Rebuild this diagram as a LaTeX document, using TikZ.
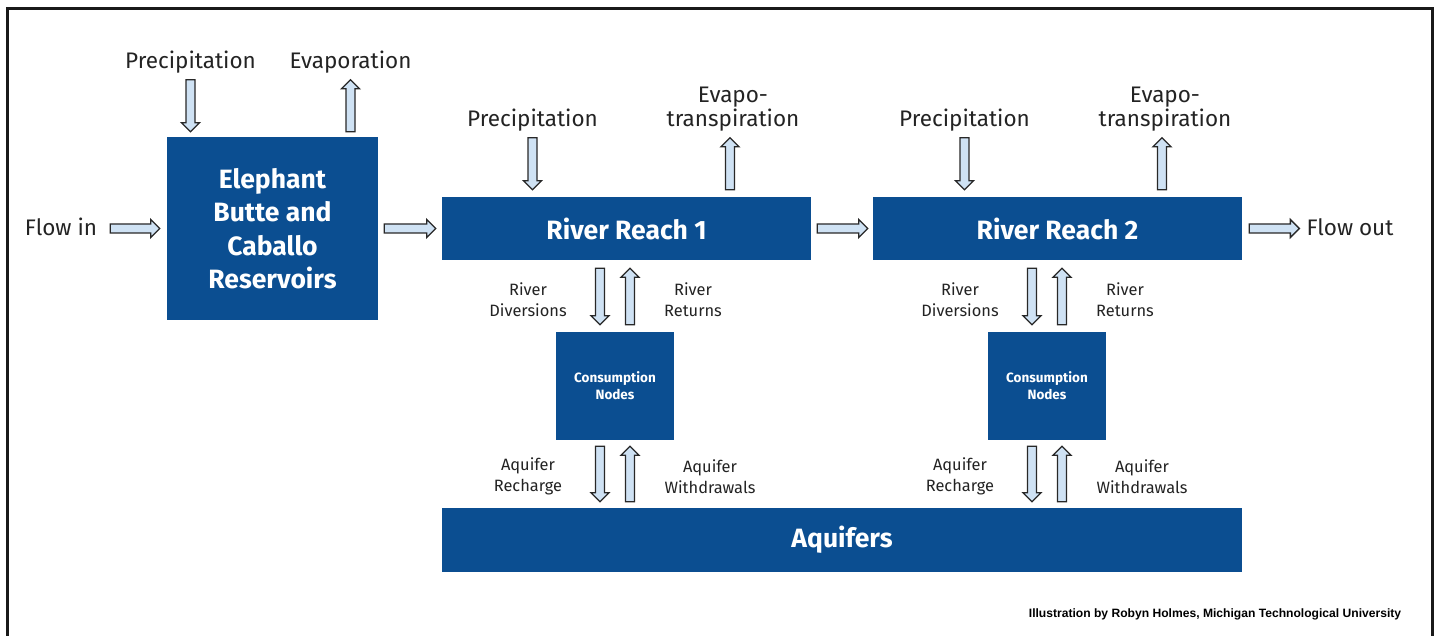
\documentclass[tikz,border=0pt]{standalone}
\usepackage{fontspec}
\setmainfont{Fira Sans}
\newfontfamily\creditfont{Liberation Sans}
\usetikzlibrary{calc}

\definecolor{boxblue}{RGB}{11,78,145}
\definecolor{arrowfill}{RGB}{207,226,244}
\definecolor{arrowline}{RGB}{40,40,40}
\definecolor{labelgray}{RGB}{35,35,35}

% block arrow from #1 (tail) to #2 (tip)
\newcommand{\fatarrow}[2]{%
  \coordinate (fa-t) at (#1);
  \coordinate (fa-b) at (#2);
  \coordinate (fa-h) at ($(fa-b)!9pt!(fa-t)$);
  \draw[fatarrow] ($(fa-t)!4.5pt!90:(fa-b)$) -- ($(fa-h)!4.5pt!90:(fa-b)$) -- ($(fa-h)!9pt!90:(fa-b)$)
    -- (fa-b) -- ($(fa-h)!9pt!-90:(fa-b)$) -- ($(fa-h)!4.5pt!-90:(fa-b)$) -- ($(fa-t)!4.5pt!-90:(fa-b)$) -- cycle;}

\begin{document}
\begin{tikzpicture}[x=1pt, y=1pt,
    box/.style={fill=boxblue, text=white, inner sep=0pt, align=center, font=\bfseries\fontsize{26.5}{33.5}\selectfont},
    biglbl/.style={text=labelgray, inner sep=0pt, align=center, font=\fontsize{22.5}{22}\selectfont},
    smalllbl/.style={text=labelgray, inner sep=0pt, align=center, font=\fontsize{16.4}{21}\selectfont},
    fatarrow/.style={draw=arrowline, fill=arrowfill, line width=1.3pt, line join=miter}]

    \useasboundingbox (0,0) rectangle (1438,636);

    % frame, open at the bottom
    \draw[line width=3pt, black!90] (7,0) -- (7,627) -- (1432,627) -- (1432,0);

    % Boxes
    \node[box, minimum width=211pt, minimum height=183pt] (res) at (272.5,407.5) {Elephant\\Butte and\\Caballo\\Reservoirs};
    \node[box, minimum width=369pt, minimum height=63pt] (rr1) at (626.5,407.5) {River Reach 1};
    \node[box, minimum width=369pt, minimum height=63pt] (rr2) at (1057.5,407.5) {River Reach 2};
    \node[box, minimum width=118pt, minimum height=108pt, font=\bfseries\fontsize{13.5}{17}\selectfont] (cn1) at (615,250) {Consumption\\Nodes};
    \node[box, minimum width=118pt, minimum height=108pt, font=\bfseries\fontsize{13.5}{17}\selectfont] (cn2) at (1047,250) {Consumption\\Nodes};
    \node[box, minimum width=800pt, minimum height=64pt] (aq) at (842,96) {Aquifers};

    % Labels
    \node[biglbl] (flowin) at (61,409) {Flow in};
    \node[biglbl] (flowout) at (1350,409) {Flow out};
    \node[biglbl] (precA) at (190.5,574) {Precipitation};
    \node[biglbl] (evapA) at (350.5,574) {Evaporation};
    \node[biglbl] (precB) at (532.5,516) {Precipitation};
    \node[biglbl] (evtB) at (733,527) {Evapo-\\transpiration};
    \node[biglbl] (precC) at (964.5,516) {Precipitation};
    \node[biglbl] (evtC) at (1165,527) {Evapo-\\transpiration};

    \node[smalllbl] (divB) at (528,336.5) {River\\Diversions};
    \node[smalllbl] (retB) at (693,336.5) {River\\Returns};
    \node[smalllbl] (rechB) at (528,159.5) {Aquifer\\Recharge};
    \node[smalllbl] (wdrB) at (710,159.5) {Aquifer\\Withdrawals};
    \node[smalllbl] (divC) at (960,336.5) {River\\Diversions};
    \node[smalllbl] (retC) at (1125,336.5) {River\\Returns};
    \node[smalllbl] (rechC) at (960,159.5) {Aquifer\\Recharge};
    \node[smalllbl] (wdrC) at (1142,159.5) {Aquifer\\Withdrawals};

    \node[inner sep=0pt, font=\creditfont\bfseries\fontsize{12.1}{14}\selectfont] (credit) at (1215,22) {Illustration by Robyn Holmes, Michigan Technological University};

    % Flow along the river
    \fatarrow{$(flowin.east |- res.west)+(13,0)$}{$(res.west)+(-7,0)$}
    \fatarrow{$(res.east)+(6,0)$}{$(rr1.west)+(-6,0)$}
    \fatarrow{$(rr1.east)+(6,0)$}{$(rr2.west)+(-5,0)$}
    \fatarrow{$(rr2.east)+(7,0)$}{$(flowout.west |- rr2.east)+(-7,0)$}

    % Precipitation and evaporation
    \fatarrow{$(precA |- res.north)+(0,57)$}{$(precA |- res.north)+(0,5)$}
    \fatarrow{$(evapA |- res.north)+(0,5)$}{$(evapA |- res.north)+(0,57)$}
    \fatarrow{$(precB |- rr1.north)+(0,59)$}{$(precB |- rr1.north)+(0,7)$}
    \fatarrow{$(evtB |- rr1.north)+(-3,7)$}{$(evtB |- rr1.north)+(-3,59)$}
    \fatarrow{$(precC |- rr2.north)+(0,59)$}{$(precC |- rr2.north)+(0,7)$}
    \fatarrow{$(evtC |- rr2.north)+(-3,7)$}{$(evtC |- rr2.north)+(-3,59)$}

    % Diversions, returns, recharge, withdrawals
    \foreach \i in {1,2} {
      \fatarrow{$(cn\i.north |- rr\i.south)+(-15,-8)$}{$(cn\i.north)+(-15,7)$}
      \fatarrow{$(cn\i.north)+(15,7)$}{$(cn\i.north |- rr\i.south)+(15,-8)$}
      \fatarrow{$(cn\i.south)+(-15,-6)$}{$(cn\i.south |- aq.north)+(-15,6)$}
      \fatarrow{$(cn\i.south |- aq.north)+(15,6)$}{$(cn\i.south)+(15,-6)$}
    }
\end{tikzpicture}
\end{document}
